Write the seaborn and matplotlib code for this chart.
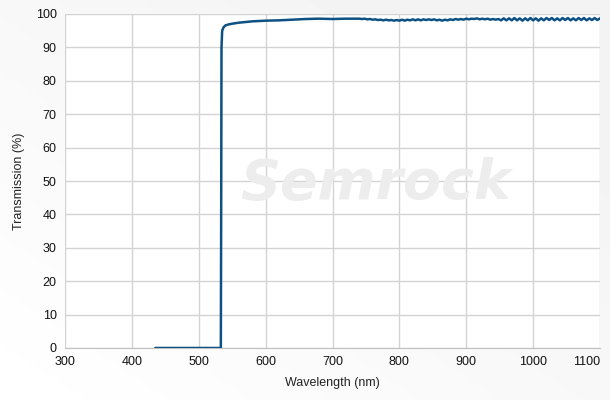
import numpy as np
import pandas as pd
import matplotlib
matplotlib.use("Agg")
import matplotlib.pyplot as plt
import seaborn as sns

# blocking region + edge + knee
edge_nm = [435, 533, 533.5, 534, 535, 537, 540, 545, 550, 560, 570, 580, 600,
           620, 640, 660, 680, 700, 720, 740, 744]
edge_t = [0.0, 0.0, 40.0, 90.0, 95.0, 96.0, 96.6, 96.9, 97.1, 97.4, 97.6, 97.8,
          98.0, 98.1, 98.3, 98.5, 98.6, 98.5, 98.6, 98.6, 98.5]

# ripple region, sampled every 4 nm
ripple_nm = list(range(748, 1101, 4))
ripple_t = [
    98.6, 98.4, 98.5, 98.3, 98.4, 98.2, 98.3, 98.1, 98.3, 98.1, 98.2, 98.0, 98.2,
    98.0, 98.3, 98.0, 98.3, 98.1, 98.4, 98.1, 98.4, 98.1, 98.4, 98.2, 98.4, 98.2,
    98.4, 98.1, 98.3, 98.0, 98.3, 98.1, 98.4, 98.2, 98.5, 98.3, 98.5, 98.3, 98.6,
    98.4, 98.6, 98.5, 98.7, 98.4, 98.6, 98.4, 98.6, 98.3, 98.5, 98.3, 98.5,
    98.1, 98.7, 98.1, 98.7, 98.1, 98.8, 98.1, 98.7, 98.0, 98.7, 98.1, 98.8, 98.1,
    98.7, 98.0, 98.7, 98.1, 98.8, 98.2, 98.8, 98.1, 98.7, 98.1, 98.8, 98.2, 98.8,
    98.1, 98.7, 98.1, 98.8, 98.2, 98.8, 98.1, 98.7, 98.2, 98.8, 98.2, 98.7,
]

x_ticks = [300, 400, 500, 600, 700, 800, 900, 1000, 1100]
y_ticks = [0, 10, 20, 30, 40, 50, 60, 70, 80, 90, 100]

df = pd.DataFrame({
    "wavelength": edge_nm + ripple_nm[:len(ripple_t)],
    "transmission": edge_t + ripple_t,
})

sns.set_style("white")
plt.rcParams["font.family"] = ["Liberation Sans", "DejaVu Sans"]

fig = plt.figure(figsize=(6.1, 4.0), dpi=100)

# soft gray gradient behind everything
bg = fig.add_axes([0, 0, 1, 1], zorder=-10)
gx, gy = np.meshgrid(np.linspace(0, 1, 200), np.linspace(0, 1, 200))
bg.imshow(np.clip(1 - 0.6 * (gx + gy), 0, 1), cmap="gray", vmin=-20, vmax=1,
          extent=[0, 1, 0, 1], aspect="auto", origin="lower")
bg.axis("off")

ax = fig.add_axes([0.1066, 0.13, 0.877, 0.835])
ax.set_facecolor("white")

sns.lineplot(data=df, x="wavelength", y="transmission", ax=ax,
             color="#0d5083", linewidth=1.8, sort=False, zorder=3)

ax.set_xlim(300, 1100)
ax.set_ylim(0, 100)
ax.set_xticks(x_ticks)
ax.set_yticks(y_ticks)
ax.set_xticklabels([str(t) for t in x_ticks])
ax.get_xticklabels()[-1].set_horizontalalignment("right")
ax.grid(True, color="#d3d3d3", linewidth=1)
ax.tick_params(length=0, labelsize=9, colors="#111111", pad=6)
for s in ["top", "right", "left"]:
    ax.spines[s].set_visible(False)
ax.spines["bottom"].set_color("#c0c0c0")
ax.set_xlabel("Wavelength (nm)", fontsize=9, color="#222222", labelpad=6)
ax.set_ylabel("Transmission (%)", fontsize=9, color="#222222", labelpad=8)

# watermark
ax.text(0.58, 0.49, "Semrock", transform=ax.transAxes, ha="center", va="center",
        fontsize=40, fontweight="bold", style="italic", color="#ededed",
        family="DejaVu Sans", zorder=1)

fig.savefig("out.png", dpi=100, facecolor=fig.get_facecolor())
